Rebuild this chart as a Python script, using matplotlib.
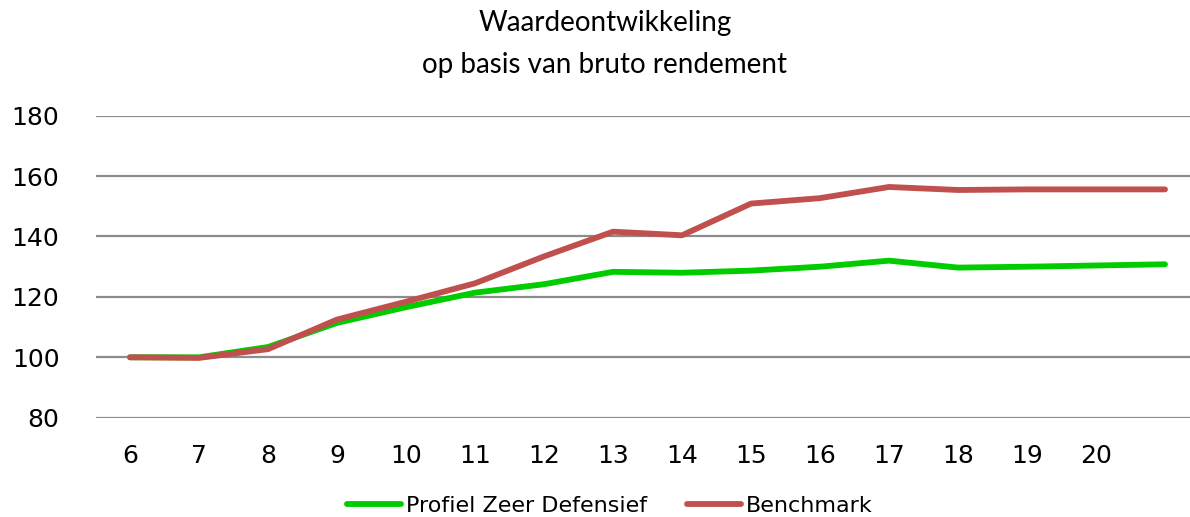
import matplotlib
matplotlib.use("Agg")
import matplotlib.pyplot as plt

categories = ["6", "7", "8", "9", "10", "11", "12", "13", "14", "15", "16", "17", "18", "19", "20", ""]
profiel = [100.0, 100.0, 103.4, 111.4, 116.6, 121.4, 124.2, 128.3, 128.0, 128.7, 130.0, 132.0, 129.7, 130.0, 130.4, 130.8]
benchmark = [100.0, 99.8, 102.7, 112.5, 118.4, 124.5, 133.4, 141.6, 140.4, 150.9, 152.7, 156.4, 155.4, 155.6, 155.6, 155.6]
yticks = [80, 100, 120, 140, 160, 180]

W, H = 1190, 517
fig = plt.figure(figsize=(W / 100, H / 100), dpi=100)
left, right, top, bottom = 95.5, 1199.5, 115.7, 417.7
ax = fig.add_axes([left / W, 1 - bottom / H, (right - left) / W, (bottom - top) / H])

x = list(range(len(categories)))
ax.plot(x, profiel, color="#00CC00", lw=4.2, solid_capstyle="round", solid_joinstyle="round",
        label="Profiel Zeer Defensief", zorder=3)
ax.plot(x, benchmark, color="#C0504D", lw=4.2, solid_capstyle="round", solid_joinstyle="round",
        label="Benchmark", zorder=4)

ax.set_xlim(-0.5, len(categories) - 0.5)
ax.set_ylim(80, 180)
ax.set_yticks(yticks)
ax.set_yticklabels([str(v) for v in yticks], fontsize=18, family="DejaVu Sans")
ax.set_xticks(x)
ax.set_xticklabels(categories, fontsize=18, family="DejaVu Sans")
ax.tick_params(axis="both", length=0)
ax.tick_params(axis="y", pad=26)
ax.tick_params(axis="x", pad=19)
ax.grid(axis="y", color="#8C8C8C", lw=1.6)
ax.set_axisbelow(True)
for s in ax.spines.values():
    s.set_visible(False)

fig.text(605 / W, 1 - 23 / H, "Waardeontwikkeling", ha="center", va="center", fontsize=20, family="Lato")
fig.text(605 / W, 1 - 65 / H, "op basis van bruto rendement", ha="center", va="center", fontsize=20, family="Lato")

leg = fig.legend(loc="center", bbox_to_anchor=(610 / W, 1 - 506 / H), ncol=2, frameon=False,
                 prop={"family": "DejaVu Sans", "size": 16}, handlelength=2.4, handletextpad=0.25,
                 columnspacing=1.8)

fig.savefig("out.png", dpi=100)
